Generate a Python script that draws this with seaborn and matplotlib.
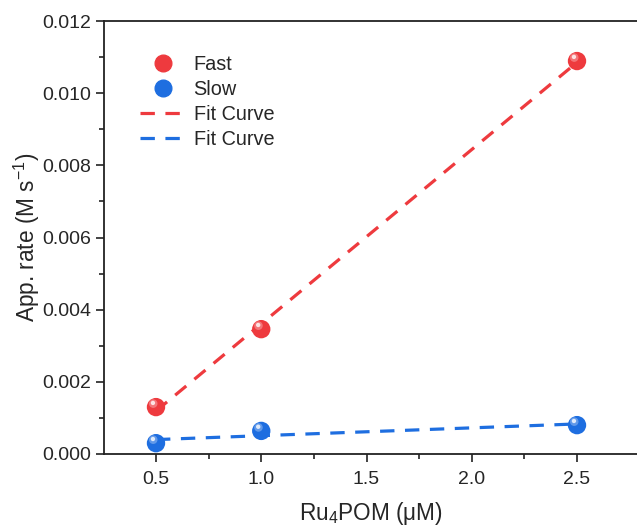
import numpy as np
import pandas as pd
import matplotlib
matplotlib.use("Agg")
import matplotlib.pyplot as plt
import matplotlib.transforms as mtransforms
from matplotlib.lines import Line2D
from matplotlib.ticker import FixedLocator
import seaborn as sns

conc = [0.5, 1.0, 2.5]
fast_rate = [0.0013, 0.00346, 0.01089]
slow_rate = [0.0003, 0.00064, 0.0008]

red = "#EE3A3E"
blue = "#1E6EE0"

sns.set_style("ticks")
plt.rcParams["font.family"] = ["Liberation Sans", "DejaVu Sans"]
plt.rcParams["mathtext.default"] = "regular"

fig = plt.figure(figsize=(6.37, 5.27), dpi=100)
ax = fig.add_axes([104 / 637, 1 - 454 / 527, 1 - 104 / 637, (454 - 21) / 527])

ls = (0, (4.5, 3.3))
for rate, col in [(fast_rate, red), (slow_rate, blue)]:
    k, b = np.polyfit(conc, rate, 1)
    xf = np.array([conc[0], conc[-1]])
    dff = pd.DataFrame({"x": xf, "y": k * xf + b})
    sns.lineplot(data=dff, x="x", y="y", ax=ax, color=col, lw=2.3,
                 linestyle=ls, zorder=2)

df = pd.DataFrame({"x": conc * 2, "y": fast_rate + slow_rate,
                   "s": ["Fast"] * 3 + ["Slow"] * 3})
sns.scatterplot(data=df, x="x", y="y", hue="s", palette={"Fast": red, "Slow": blue},
                s=175, edgecolor="none", ax=ax, legend=False, zorder=3)
for rate in (fast_rate, slow_rate):
    tr = mtransforms.offset_copy(ax.transData, fig=fig, x=-2.0, y=2.5, units="points")
    ax.scatter(conc, rate, s=38, color="white", alpha=0.3, edgecolor="none", zorder=4, transform=tr)
    tr2 = mtransforms.offset_copy(ax.transData, fig=fig, x=-2.2, y=3.0, units="points")
    ax.scatter(conc, rate, s=10, color="white", alpha=0.8, edgecolor="none", zorder=5, transform=tr2)

ax.set_xlim(0.253, 2.785)
ax.set_ylim(0, 0.012)
ax.set_xticks([0.5, 1.0, 1.5, 2.0, 2.5])
ax.set_xticklabels(["0.5", "1.0", "1.5", "2.0", "2.5"])
ax.xaxis.set_minor_locator(FixedLocator([0.75, 1.25, 1.75, 2.25]))
yt = np.arange(0, 0.0121, 0.002)
ax.set_yticks(yt)
ax.set_yticklabels([f"{v:.3f}" for v in yt])
ax.yaxis.set_minor_locator(FixedLocator([0.001, 0.003, 0.005, 0.007, 0.009, 0.011]))
ax.tick_params(which="major", direction="out", length=6, width=1.2, labelsize=14, color="#222222")
ax.tick_params(axis="x", which="major", pad=6)
ax.tick_params(which="minor", direction="out", length=3.5, width=1.2, color="#222222")
for side in ["left", "bottom", "top"]:
    ax.spines[side].set_linewidth(1.3)
    ax.spines[side].set_color("#222222")
ax.spines["right"].set_visible(False)

ax.set_xlabel("Ru$_4$POM (μM)", fontsize=16.3, labelpad=9)
ax.set_ylabel("App. rate (M s$^{-1}$)", fontsize=16.3, labelpad=0)

handles = [
    Line2D([], [], marker="o", ls="none", color=red, markersize=12),
    Line2D([], [], marker="o", ls="none", color=blue, markersize=12),
    Line2D([], [], color=red, lw=2.3, ls=ls),
    Line2D([], [], color=blue, lw=2.3, ls=ls),
]
ax.legend(handles, ["Fast", "Slow", "Fit Curve", "Fit Curve"], frameon=False, fontsize=14.3,
          loc="upper left", bbox_to_anchor=(0.0675, 0.921), handlelength=2.3,
          handletextpad=0.4, labelspacing=0.3, borderaxespad=0, borderpad=0)

fig.savefig("out.png", dpi=100)
